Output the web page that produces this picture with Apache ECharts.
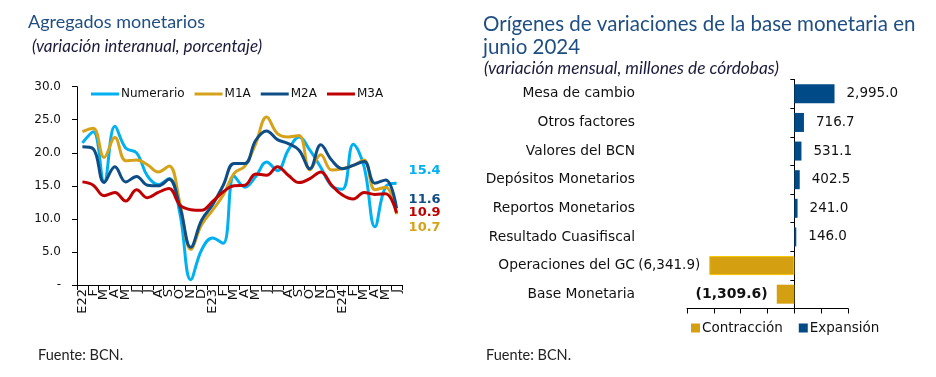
<!DOCTYPE html>
<html>
<head>
<meta charset="utf-8">
<script src="https://cdn.jsdelivr.net/npm/echarts@6/dist/echarts.min.js"></script>
<style>
  html, body { margin: 0; padding: 0; background: #fff; }
  #grafico { width: 936px; height: 377px; }
</style>
</head>
<body>
<div id="grafico"></div>
<script>
// Panel izquierdo: agregados monetarios (variacion interanual, %)
var meses = ['E22','F','M','A','M','J','J','A','S','O','N','D',
             'E23','F','M','A','M','J','J','A','S','O','N','D',
             'E24','F','M','A','M','J'];
var numerario = [21.5, 23.2, 15.6, 24.0, 20.7, 20.0, 16.5, 15.2, 16.1, 10.8, 0.8, 5.3, 7.1, 6.3, 16.5,
                 14.8, 16.4, 18.6, 17.3, 20.4, 22.4, 20.4, 17.8, 15.0, 14.5, 21.3, 17.9, 8.8, 14.9, 15.4];
var m1a = [23.2, 23.7, 19.3, 22.3, 18.8, 18.9, 18.2, 17.1, 18.0, 12.4, 5.4, 9.1, 11.3, 13.6, 16.9,
           18.0, 21.4, 25.4, 22.9, 22.4, 22.6, 17.4, 19.7, 17.4, 17.6, 18.1, 18.9, 14.4, 14.8, 10.7];
var m2a = [20.9, 20.6, 15.5, 17.9, 15.6, 16.4, 15.1, 15.0, 16.0, 11.8, 5.7, 9.8, 12.1, 15.1, 18.4,
           18.4, 21.9, 23.3, 22.0, 21.4, 20.4, 17.6, 21.2, 18.9, 17.6, 18.1, 18.7, 15.4, 15.9, 11.6];
var m3a = [15.6, 15.1, 13.5, 14.0, 12.7, 14.4, 13.2, 14.0, 14.6, 12.1, 11.4, 11.3, 12.6, 14.1, 15.0,
           15.1, 16.8, 16.6, 17.9, 16.6, 15.5, 16.1, 17.1, 15.1, 13.6, 13.0, 14.0, 13.7, 13.8, 10.9];

// Panel derecho: origenes de variaciones de la base monetaria (junio 2024)
var rubros = ['Mesa de cambio', 'Otros factores', 'Valores del BCN', 'Depósitos Monetarios',
              'Reportos Monetarios', 'Resultado Cuasifiscal', 'Operaciones del GC', 'Base Monetaria'];
var variacion = [2995.0, 716.7, 531.1, 402.5, 241.0, 146.0, -6341.9, -1309.6];

var azulTitulo = '#1F4E82';
var fuenteNum = '"DejaVu Sans", Verdana, sans-serif';
var fuenteTit = 'Lato, "Open Sans", sans-serif';

function fmtMiles(v) {
  var s = Math.abs(v).toFixed(1).replace(/\B(?=(\d{3})+(?!\d))/g, ',');
  return v < 0 ? '(' + s + ')' : s;
}

// series del panel izquierdo
var lineas = [
  { name: 'Numerario', data: numerario, color: '#00B0F0', dy: -13 },
  { name: 'M1A', data: m1a, color: '#D6A21A', dy: 13 },
  { name: 'M2A', data: m2a, color: '#0E4D86', dy: -9 },
  { name: 'M3A', data: m3a, color: '#C00000', dy: 0 }
];

var seriesLineas = lineas.map(function (l) {
  return {
    name: l.name,
    type: 'line',
    xAxisIndex: 0,
    yAxisIndex: 0,
    data: l.data,
    smooth: 0.4,
    symbol: 'none',
    color: l.color,
    lineStyle: { width: 3, color: l.color },
    endLabel: {
      show: true,
      offset: [4, l.dy],
      color: l.color,
      fontFamily: fuenteNum,
      fontWeight: 'bold',
      fontSize: 13,
      formatter: function (p) { return p.value.toFixed(1); }
    }
  };
});

// datos para las barras (contraccion / expansion)
var datosContr = variacion.map(function (v, i) {
  if (v >= 0) return '-';
  var item = { value: v };
  if (rubros[i] === 'Operaciones del GC') {
    item.itemStyle = { borderColor: '#F7C600', borderWidth: 1 };
  }
  if (rubros[i] === 'Base Monetaria') {
    item.label = { fontWeight: 'bold', fontSize: 14 };
  }
  return item;
});
var datosExp = variacion.map(function (v) { return v >= 0 ? v : '-'; });

var myChart = echarts.init(document.getElementById('grafico'));

var option = {
  backgroundColor: '#fff',
  animation: false,
  title: [
    {
      text: 'Agregados monetarios',
      left: 23, top: 8,
      textStyle: { fontFamily: fuenteTit, fontSize: 18, fontWeight: 'normal', color: azulTitulo }
    },
    {
      text: '(variación interanual, porcentaje)',
      left: 27, top: 33,
      textStyle: { fontFamily: fuenteTit, fontSize: 17, fontStyle: 'italic', fontWeight: 'normal', color: '#1a1a3a' }
    },
    {
      text: 'Orígenes de variaciones de la base monetaria en\njunio 2024',
      left: 478, top: 8,
      textStyle: { fontFamily: fuenteTit, fontSize: 20.5, fontWeight: 'normal', color: azulTitulo, lineHeight: 23 }
    },
    {
      text: '(variación mensual, millones de córdobas)',
      left: 479, top: 55,
      textStyle: { fontFamily: fuenteTit, fontSize: 17.3, fontStyle: 'italic', fontWeight: 'normal', color: '#1a1a3a' }
    },
    {
      text: 'Fuente: BCN.',
      left: 33, top: 343,
      textStyle: { fontFamily: fuenteTit, fontSize: 14.5, fontWeight: 'normal', color: '#222' }
    },
    {
      text: 'Fuente: BCN.',
      left: 481, top: 343,
      textStyle: { fontFamily: fuenteTit, fontSize: 14.5, fontWeight: 'normal', color: '#222' }
    }
  ],
  legend: [
    {
      data: ['Numerario', 'M1A', 'M2A', 'M3A'],
      left: 86, top: 83,
      icon: 'rect',
      itemWidth: 28, itemHeight: 3, itemGap: 10,
      textStyle: { fontFamily: fuenteNum, fontSize: 12, color: '#111', padding: [0, 0, 0, -3] }
    },
    {
      data: ['Contracción', 'Expansión'],
      left: 686, top: 316,
      icon: 'rect',
      itemWidth: 9, itemHeight: 9, itemGap: 16,
      textStyle: { fontFamily: fuenteNum, fontSize: 13.5, color: '#111', padding: [0, 0, 0, -3] }
    }
  ],
  grid: [
    { left: 77, top: 86.7, width: 325, height: 198.3 },
    { left: 687, top: 79.5, width: 161, height: 229 }
  ],
  xAxis: [
    {
      type: 'category',
      gridIndex: 0,
      data: meses,
      boundaryGap: true,
      axisLine: { lineStyle: { color: '#000', width: 1 } },
      axisTick: { show: true, length: 5, lineStyle: { color: '#000' } },
      axisLabel: { interval: 0, rotate: 90, margin: 4, fontFamily: fuenteNum, fontSize: 13, color: '#111' },
      splitLine: { show: false }
    },
    {
      type: 'value',
      gridIndex: 1,
      min: -8000, max: 4000, interval: 2000,
      axisLine: { show: true, onZero: false, lineStyle: { color: '#000' } },
      axisTick: { show: true, length: 5, lineStyle: { color: '#000' } },
      axisLabel: { show: false },
      splitLine: { show: false }
    }
  ],
  yAxis: [
    {
      type: 'value',
      gridIndex: 0,
      min: 0, max: 30, interval: 5,
      axisLine: { show: true, lineStyle: { color: '#000', width: 1 } },
      axisTick: { show: true, length: 5, lineStyle: { color: '#000' } },
      axisLabel: {
        margin: 16,
        fontFamily: fuenteNum, fontSize: 12, color: '#111',
        formatter: function (v) { return v === 0 ? '-' : v.toFixed(1); }
      },
      splitLine: { show: false }
    },
    {
      type: 'category',
      gridIndex: 1,
      data: rubros,
      inverse: true,
      axisLine: { show: true, onZero: true, lineStyle: { color: '#000' } },
      axisTick: { show: true, length: 4, lineStyle: { color: '#000' } },
      axisLabel: { margin: 52, fontFamily: fuenteNum, fontSize: 13.8, color: '#111' },
      splitLine: { show: false }
    }
  ],
  series: seriesLineas.concat([
    {
      name: 'Contracción',
      type: 'bar',
      xAxisIndex: 1,
      yAxisIndex: 1,
      stack: 'origen',
      data: datosContr,
      barWidth: 19,
      color: '#D4A012',
      itemStyle: { color: '#D4A012' },
      label: {
        show: true,
        position: 'left',
        distance: 9,
        fontFamily: fuenteNum, fontSize: 13.5, color: '#111',
        formatter: function (p) { return fmtMiles(p.value); }
      }
    },
    {
      name: 'Expansión',
      type: 'bar',
      xAxisIndex: 1,
      yAxisIndex: 1,
      stack: 'origen',
      data: datosExp,
      barWidth: 19,
      color: '#004B87',
      itemStyle: { color: '#004B87' },
      label: {
        show: true,
        position: 'right',
        distance: 12,
        fontFamily: fuenteNum, fontSize: 13.5, color: '#111',
        formatter: function (p) { return fmtMiles(p.value); }
      }
    }
  ])
};

myChart.setOption(option);

window.addEventListener('resize', function () {
  myChart.resize();
});
</script>
</body>
</html>
